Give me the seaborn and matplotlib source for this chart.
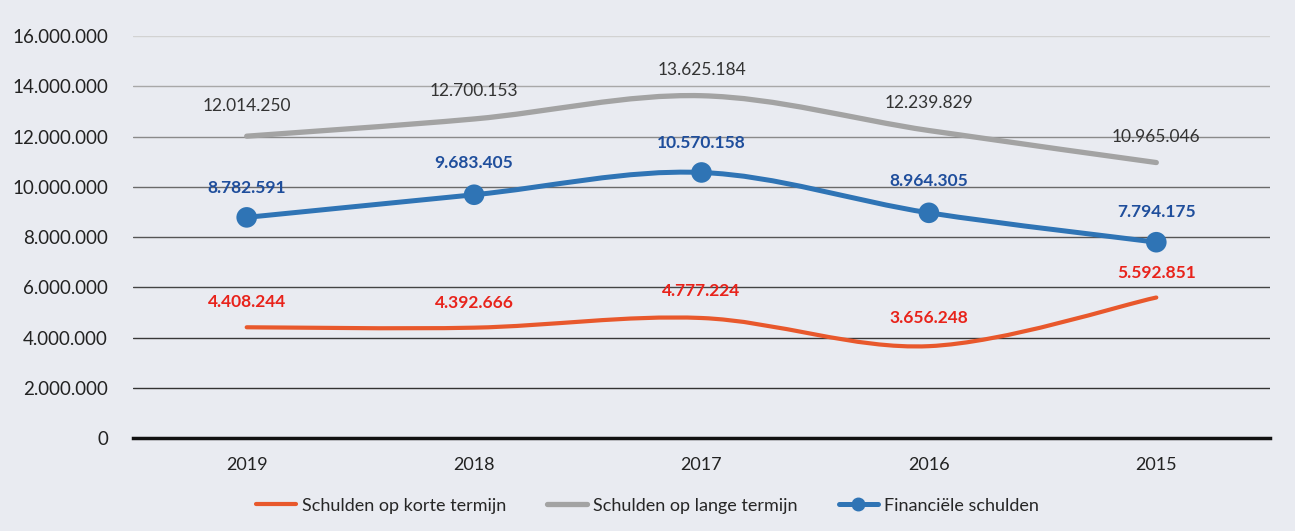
import numpy as np
import seaborn as sns
import matplotlib.pyplot as plt
from matplotlib.path import Path
from matplotlib.patches import PathPatch
from matplotlib.lines import Line2D
from matplotlib.ticker import FuncFormatter

years = ['2019', '2018', '2017', '2016', '2015']
kort = [4408244, 4392666, 4777224, 3656248, 5592851]
lang = [12014250, 12700153, 13625184, 12239829, 10965046]
fin = [8782591, 9683405, 10570158, 8964305, 7794175]

names = ['Schulden op korte termijn', 'Schulden op lange termijn', 'Financiële schulden']

sns.set_theme(style='white')
plt.rcParams['font.family'] = ['Lato', 'DejaVu Sans']

bg = '#e9ebf1'
fig = plt.figure(figsize=(12.95, 5.31), dpi=100, facecolor=bg)
ax = fig.add_axes([0.1027, 0.1751, 0.878, 0.757])
ax.set_facecolor('none')


def dots(v):
    return f'{v:,.0f}'.replace(',', '.')


def smooth_path(xs, ys):
    # Excel-style smoothed line (Catmull-Rom as cubic Bezier)
    pts = np.column_stack([xs, ys]).astype(float)
    ext = np.vstack([pts[0], pts, pts[-1]])
    verts = [tuple(pts[0])]
    codes = [Path.MOVETO]
    for i in range(1, len(ext) - 2):
        p0, p1, p2, p3 = ext[i - 1], ext[i], ext[i + 1], ext[i + 2]
        c1 = p1 + (p2 - p0) / 6
        c2 = p2 - (p3 - p1) / 6
        verts += [tuple(c1), tuple(c2), tuple(p2)]
        codes += [Path.CURVE4] * 3
    return Path(verts, codes)


xpos = np.arange(len(years))
series = [
    (kort, '#e8582c', 3.0, '#e8231b', 'bold', [18, 18, 19.5, 20, 18]),
    (lang, '#a3a3a3', 3.8, '#333333', 'normal', [22, 20, 18.5, 20, 18.5]),
    (fin, '#2f74b5', 3.6, '#1f4e9c', 'bold', [21.5, 23, 21.5, 23, 21.5]),
]

# gridlines, fading towards the top like the scan
grid_cols = ['#333333', '#383838', '#444444', '#555555', '#6a6a6a', '#8a8a8a', '#a8a8a8', '#d2d2d2']
for v, gc in zip(range(2000000, 16000001, 2000000), grid_cols):
    ax.axhline(v, color=gc, lw=1.0, zorder=1)

for vals, col, lw, tcol, tw, offs in series:
    ax.add_patch(PathPatch(smooth_path(xpos, vals), fill=False, edgecolor=col,
                           lw=lw, capstyle='round', zorder=3))
    for x, v, o in zip(xpos, vals, offs):
        ax.annotate(dots(v), (x, v), xytext=(0, o), textcoords='offset points',
                    ha='center', va='center', fontsize=12.5, color=tcol,
                    fontweight=tw, zorder=5)

sns.scatterplot(x=xpos, y=fin, color='#2f74b5', s=220, edgecolor='none',
                ax=ax, zorder=4, legend=False)

ax.set_xlim(-0.5, 4.5)
ax.set_ylim(0, 16000000)
ax.set_xticks(xpos)
ax.set_xticklabels(years)
ax.set_xticks(np.arange(-0.5, 5, 1), minor=True)
ax.tick_params(axis='x', which='major', length=0, pad=14, labelsize=13, colors='#222222')
ax.tick_params(axis='x', which='minor', length=6, width=2.5, direction='out', color='#111111')
ax.set_yticks(range(0, 16000001, 2000000))
ax.yaxis.set_major_formatter(FuncFormatter(lambda v, p: dots(v)))
ax.tick_params(axis='y', length=0, pad=18, labelsize=13.5, colors='#222222')

for s in ['top', 'right', 'left']:
    ax.spines[s].set_visible(False)
ax.spines['bottom'].set_color('#111111')
ax.spines['bottom'].set_linewidth(2.5)

handles = [
    Line2D([], [], color='#e8582c', lw=3.0),
    Line2D([], [], color='#a3a3a3', lw=3.8),
    Line2D([], [], color='#2f74b5', lw=3.6, marker='o', markersize=9),
]
fig.legend(handles, names, loc='center', bbox_to_anchor=(0.5, 0.048), ncol=3,
           frameon=False, fontsize=13, handlelength=2.2, columnspacing=2.3,
           handletextpad=0.3)

plt.savefig('out.png', dpi=100, facecolor=bg)
